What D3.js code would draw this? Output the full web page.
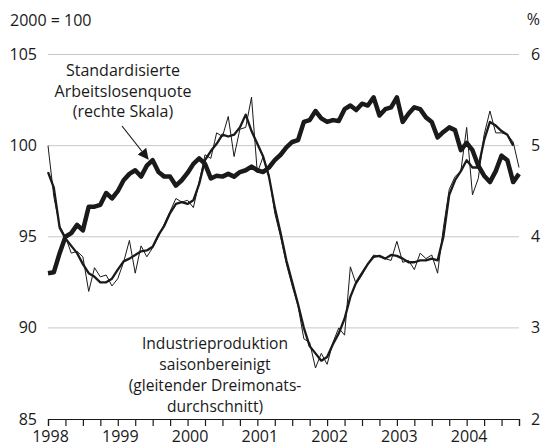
<!DOCTYPE html>
<html>
<head>
<meta charset="utf-8">
<script src="https://cdn.jsdelivr.net/npm/d3@7"></script>
<style>
  body { margin: 0; background: #fff; }
  svg text { font-family: "Open Sans", "Noto Sans", sans-serif; fill: #1a1a1a; }
</style>
</head>
<body>
<svg id="chart" width="542" height="448"></svg>
<script>
// monthly data, Jan 1998 .. Oct 2004
const startYear = 1998;

// Standardisierte Arbeitslosenquote, % (right scale)
const unemployment = [
  3.60, 3.61, 3.82, 4.00, 4.04, 4.13, 4.07, 4.33, 4.33, 4.35, 4.48, 4.42,
  4.50, 4.62, 4.69, 4.73, 4.66, 4.78, 4.84, 4.71, 4.66, 4.66, 4.56, 4.62,
  4.70, 4.80, 4.86, 4.80, 4.64, 4.67, 4.66, 4.69, 4.66, 4.71, 4.73, 4.77,
  4.73, 4.71, 4.76, 4.84, 4.90, 4.98, 5.04, 5.06, 5.26, 5.28, 5.38, 5.30,
  5.26, 5.28, 5.27, 5.40, 5.44, 5.39, 5.46, 5.44, 5.53, 5.33, 5.40, 5.42,
  5.53, 5.26, 5.35, 5.42, 5.40, 5.31, 5.26, 5.09, 5.15, 5.20, 5.17, 4.95,
  5.03, 4.95, 4.78, 4.67, 4.60, 4.72, 4.89, 4.84, 4.60, 4.69
];

// Industrieproduktion, monthly, 2000 = 100
const production = [
  100.0, 97.2, 95.6, 95.0, 94.1, 94.2, 93.9, 92.0, 93.3, 92.8, 92.9, 92.3,
  92.7, 93.6, 94.8, 93.0, 94.5, 93.9, 94.4, 95.0, 95.7, 96.4, 97.1, 96.9,
  97.0, 96.6, 98.0, 99.5, 99.3, 100.7, 100.5, 101.6, 99.4, 100.9, 101.0, 102.66,
  98.5, 99.4, 98.4, 96.3, 95.0, 93.5, 92.3, 91.2, 89.4, 89.2, 87.8, 88.6,
  88.0, 89.2, 90.0, 89.6, 93.35, 92.4, 92.9, 93.5, 94.0, 93.9, 93.8, 93.7,
  94.75, 93.6, 93.7, 93.2, 94.1, 93.8, 94.0, 93.0, 95.5, 97.6, 98.3, 98.6,
  101.0, 97.3, 98.2, 100.6, 101.9, 100.7, 100.7, 100.6, 100.2, 98.8
];

// gleitender Dreimonatsdurchschnitt
const productionAvg = [
  98.55, 97.7, 95.5, 94.9, 94.5, 94.1, 93.5, 93.0, 92.8, 92.5, 92.5, 92.7,
  93.2, 93.65, 93.8, 94.0, 94.2, 94.25, 94.45, 95.1, 95.6, 96.3, 96.8, 96.9,
  96.8, 97.0, 97.9, 99.2, 99.7, 100.1, 100.6, 100.5, 100.6, 101.0, 101.7, 100.8,
  100.1, 99.4, 98.3, 96.6, 95.2, 93.7, 92.5, 91.3, 90.0, 89.0, 88.6, 88.2,
  88.4, 89.1, 89.7, 90.5, 91.7, 92.5, 93.0, 93.5, 93.9, 93.95, 93.8, 94.0,
  93.95, 93.8, 93.6, 93.6, 93.7, 93.7, 93.8, 93.7, 95.0, 97.3, 98.1, 98.6,
  99.2, 98.8, 98.8, 100.3, 101.3, 101.1, 100.8, 100.6, 100.0
];

const years = [1998, 1999, 2000, 2001, 2002, 2003, 2004];
const leftTicks = [85, 90, 95, 100, 105];
const rightTicks = [2, 3, 4, 5, 6];

const svg = d3.select('#chart');

const x = d3.scaleLinear().domain([1998, 2004.75]).range([48, 519]);
const yL = d3.scaleLinear().domain([85, 105]).range([419, 54.5]);
const yR = d3.scaleLinear().domain([2, 6]).range([419, 54.5]);

const t = i => startYear + i / 12;

// gridlines
svg.append('g')
  .selectAll('line')
  .data(leftTicks.slice(1))
  .join('line')
  .attr('x1', x(1998)).attr('x2', x(2004.75))
  .attr('y1', d => yL(d)).attr('y2', d => yL(d))
  .attr('stroke', '#c8c8c8').attr('stroke-width', 1);

// left labels
svg.append('g')
  .selectAll('text')
  .data(leftTicks)
  .join('text')
  .attr('x', 37).attr('y', d => yL(d))
  .attr('dy', '0.35em')
  .attr('text-anchor', 'end')
  .attr('font-size', 16)
  .text(d => d);

// right labels
svg.append('g')
  .selectAll('text')
  .data(rightTicks)
  .join('text')
  .attr('x', 531).attr('y', d => yR(d))
  .attr('dy', '0.35em')
  .attr('font-size', 16)
  .text(d => d);

svg.append('text').attr('x', 10).attr('y', 26).attr('font-size', 16).text('2000 = 100');
svg.append('text').attr('x', 540).attr('y', 25).attr('text-anchor', 'end').attr('font-size', 16).text('%');

// x axis
const xAxis = d3.axisBottom(x)
  .tickValues(d3.range(0, 28).map(q => 1998 + q / 4))
  .tickSize(7)
  .tickFormat(d => Number.isInteger(d) ? d : '');

const gx = svg.append('g')
  .attr('transform', `translate(0,${yL(85)})`)
  .call(xAxis);
gx.select('.domain').attr('stroke', '#1a1a1a').attr('stroke-width', 1.2);
gx.selectAll('.tick line').attr('stroke', '#1a1a1a').attr('stroke-width', 1.2);
gx.selectAll('.tick text')
  .attr('font-size', 16)
  .attr('font-family', '"Open Sans", sans-serif')
  .attr('fill', '#1a1a1a')
  .attr('x', 2)
  .attr('y', 12)
  .attr('dy', '0.71em');

// lines
const lineL = d3.line().x((d, i) => x(t(i))).y(d => yL(d));
const lineR = d3.line().x((d, i) => x(t(i))).y(d => yR(d));

svg.append('path').datum(production)
  .attr('d', lineL).attr('fill', 'none')
  .attr('stroke', '#1a1a1a').attr('stroke-width', 1).attr('stroke-linejoin', 'round');

svg.append('path').datum(productionAvg)
  .attr('d', lineL).attr('fill', 'none')
  .attr('stroke', '#1a1a1a').attr('stroke-width', 2.3).attr('stroke-linejoin', 'round');

svg.append('path').datum(unemployment)
  .attr('d', lineR).attr('fill', 'none')
  .attr('stroke', '#1a1a1a').attr('stroke-width', 4.5).attr('stroke-linejoin', 'round');

// annotations
const note1 = ['Standardisierte', 'Arbeitslosenquote', '(rechte Skala)'];
svg.append('text')
  .attr('text-anchor', 'middle')
  .attr('font-size', 16)
  .selectAll('tspan')
  .data(note1)
  .join('tspan')
  .attr('x', 123)
  .attr('y', (d, i) => 76 + i * 20.5)
  .text(d => d);

const note2 = ['Industrieproduktion', 'saisonbereinigt', '(gleitender Dreimonats-', 'durchschnitt)'];
svg.append('text')
  .attr('text-anchor', 'middle')
  .attr('font-size', 15.6)
  .selectAll('tspan')
  .data(note2)
  .join('tspan')
  .attr('x', 215)
  .attr('y', (d, i) => 349 + i * 21)
  .text(d => d);

// arrow
svg.append('defs').append('marker')
  .attr('id', 'arrow')
  .attr('viewBox', '0 0 10 10')
  .attr('refX', 9).attr('refY', 5)
  .attr('markerWidth', 11).attr('markerHeight', 11)
  .attr('markerUnits', 'userSpaceOnUse')
  .attr('orient', 'auto')
  .append('path').attr('d', 'M0,0L10,5L0,10Z').attr('fill', '#1a1a1a');

svg.append('line')
  .attr('x1', 122).attr('y1', 126)
  .attr('x2', 148).attr('y2', 159)
  .attr('stroke', '#1a1a1a').attr('stroke-width', 1.2)
  .attr('marker-end', 'url(#arrow)');
</script>
</body>
</html>
